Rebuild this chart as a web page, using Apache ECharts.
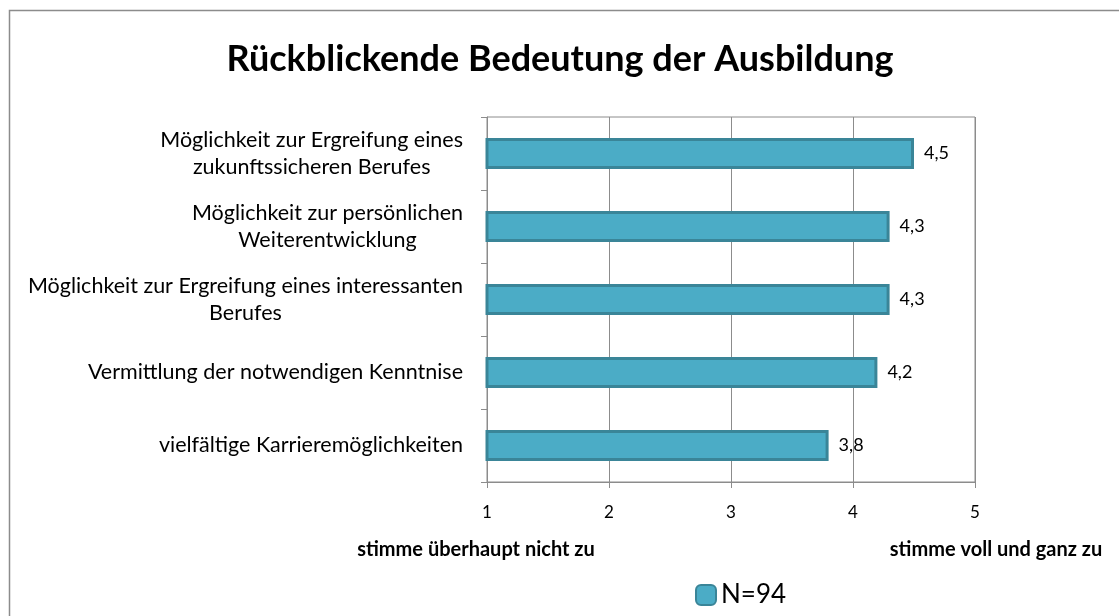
<!DOCTYPE html>
<html>
<head>
<meta charset="utf-8">
<script src="https://cdn.jsdelivr.net/npm/echarts@6/dist/echarts.min.js"></script>
<style>
  html, body { margin: 0; padding: 0; background: #fff; }
  #chart { width: 1119px; height: 616px; }
</style>
</head>
<body>
<div id="chart"></div>
<script>
// categories from bottom to top (ECharts category y axis starts at the bottom)
var categories = [
  "vielfältige Karrieremöglichkeiten",
  "Vermittlung der notwendigen Kenntnise",
  "Möglichkeit zur Ergreifung eines interessanten\nBerufes",
  "Möglichkeit zur persönlichen\nWeiterentwicklung",
  "Möglichkeit zur Ergreifung eines\nzukunftssicheren Berufes"
];
var values = [3.8, 4.2, 4.3, 4.3, 4.5];
var seriesName = "N=94";
var xTicks = [1, 2, 3, 4, 5];
var scaleLabels = ["stimme überhaupt nicht zu", "stimme voll und ganz zu"];

var font = "Lato, 'Open Sans', sans-serif";
var chart = echarts.init(document.getElementById("chart"));

var option = {
  animation: false,
  title: {
    text: "Rückblickende Bedeutung der Ausbildung",
    left: 555,
    textAlign: "center",
    top: 36,
    textStyle: { fontFamily: font, fontSize: 36, fontWeight: "bold", color: "#000" }
  },
  legend: {
    data: [seriesName],
    top: 577,
    left: 690,
    itemWidth: 20,
    itemHeight: 20,
    itemGap: 6,
    textStyle: { fontFamily: font, fontSize: 26, color: "#000" }
  },
  grid: {
    left: 487, right: 144, top: 117, bottom: 134,
    show: true, borderColor: "#8c8c8c", borderWidth: 1
  },
  xAxis: {
    type: "value",
    min: xTicks[0],
    max: xTicks[xTicks.length - 1],
    interval: 1,
    axisLine: { show: true, lineStyle: { color: "#8c8c8c", width: 1 } },
    axisTick: { show: true, length: 6, lineStyle: { color: "#8c8c8c" } },
    splitLine: { show: true, lineStyle: { color: "#8c8c8c", width: 1 } },
    axisLabel: { color: "#000", fontFamily: font, fontSize: 17, margin: 22 }
  },
  yAxis: {
    type: "category",
    data: categories,
    axisLine: { show: true, lineStyle: { color: "#8c8c8c" } },
    axisTick: { show: true, length: 6, lineStyle: { color: "#8c8c8c" } },
    splitLine: { show: false },
    axisLabel: {
      margin: 24,
      lineHeight: 27,
      formatter: function (v) {
        return v.split("\n").map(function (l) { return "{c|" + l + "}"; }).join("\n");
      },
      rich: {
        c: { align: "center", color: "#000", fontFamily: font, fontSize: 21.5, lineHeight: 27 }
      }
    }
  },
  series: [{
    name: seriesName,
    type: "bar",
    data: values,
    barWidth: 31,
    itemStyle: { color: "#4BACC6", borderColor: "#3A8598", borderWidth: 3 },
    label: {
      show: true,
      position: "right",
      distance: 10,
      color: "#000",
      fontFamily: font,
      fontSize: 18,
      formatter: function (p) { return String(p.value).replace(".", ","); }
    }
  }],
  graphic: [
    {
      type: "rect",
      shape: { x: 9.5, y: 10.5, width: 1200, height: 700 },
      style: { fill: null, stroke: "#8c8c8c", lineWidth: 1.5 },
      silent: true
    },
    {
      type: "text",
      x: 476, y: 550,
      style: { text: scaleLabels[0], align: "center", verticalAlign: "middle",
               fontFamily: font, fontSize: 20, fontWeight: "bold", fill: "#000" }
    },
    {
      type: "text",
      x: 996, y: 550,
      style: { text: scaleLabels[1], align: "center", verticalAlign: "middle",
               fontFamily: font, fontSize: 20, fontWeight: "bold", fill: "#000" }
    }
  ]
};
chart.setOption(option);
</script>
</body>
</html>
